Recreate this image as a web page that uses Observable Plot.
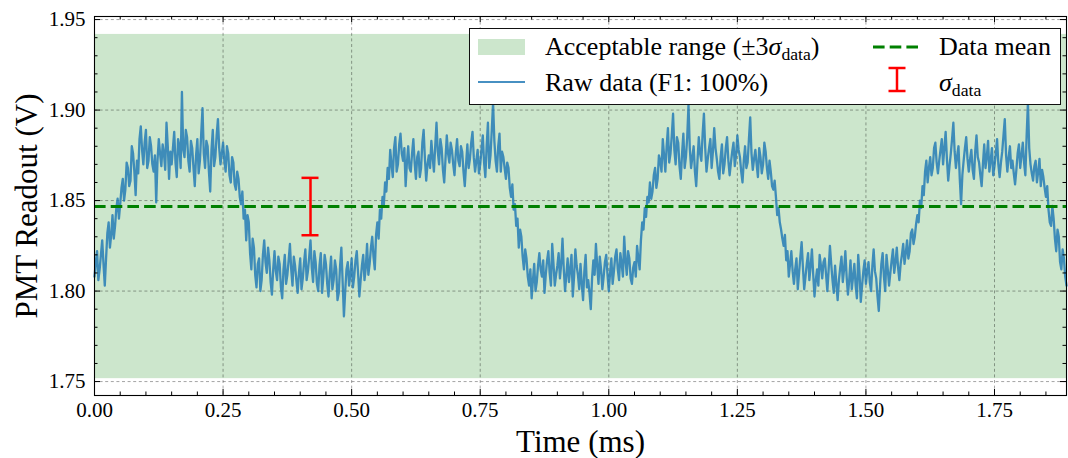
<!DOCTYPE html>
<html><head><meta charset="utf-8">
<script src="https://cdn.jsdelivr.net/npm/d3@7"></script>
<script src="https://cdn.jsdelivr.net/npm/@observablehq/plot@0.6"></script>
<style>
body{margin:0;background:#fff;}
#wrap{position:relative;width:1068px;height:458px;font-family:"Liberation Serif",serif;}
#legend{position:absolute;left:469px;top:28px;width:592px;height:77px;box-sizing:border-box;border:1.3px solid #111;background:#fff;}
.lt{position:absolute;font-size:26px;line-height:28px;white-space:nowrap;color:#000;}
.sub{font-size:0.68em;vertical-align:-0.3em;}
</style></head><body><div id="wrap"></div>
<script>
// ---- data ----
const dt = 0.0025; // ms between samples
const values = [
1.808,1.816,1.822,1.806,1.812,1.820,1.828,1.815,1.803,1.818,1.832,1.838,1.824,1.831,1.842,1.829,1.836,1.846,1.851,1.840,
1.848,1.857,1.862,1.850,1.856,1.871,1.868,1.858,1.861,1.880,1.876,1.866,1.853,1.872,1.865,1.884,1.891,1.878,1.870,1.882,
1.889,1.868,1.872,1.885,1.880,1.870,1.866,1.875,1.849,1.872,1.884,1.876,1.869,1.881,1.876,1.867,1.893,1.880,1.862,1.877,
1.870,1.879,1.888,1.871,1.863,1.884,1.880,1.868,1.910,1.878,1.874,1.889,1.885,1.872,1.866,1.883,1.879,1.868,1.858,1.875,
1.884,1.865,1.872,1.887,1.901,1.876,1.868,1.883,1.880,1.866,1.855,1.878,1.889,1.869,1.874,1.886,1.895,1.879,1.870,1.876,
1.882,1.872,1.866,1.880,1.876,1.864,1.860,1.874,1.871,1.859,1.856,1.866,1.862,1.852,1.848,1.855,1.840,1.845,1.828,1.842,
1.838,1.821,1.812,1.829,1.824,1.809,1.802,1.815,1.818,1.800,1.806,1.820,1.828,1.816,1.810,1.824,1.817,1.805,1.798,1.812,
1.822,1.811,1.806,1.819,1.815,1.802,1.796,1.812,1.820,1.804,1.809,1.817,1.826,1.812,1.803,1.819,1.814,1.806,1.799,1.810,
1.818,1.801,1.807,1.816,1.823,1.806,1.811,1.819,1.828,1.813,1.805,1.822,1.816,1.804,1.800,1.814,1.821,1.799,1.808,1.820,
1.815,1.804,1.797,1.810,1.819,1.801,1.806,1.817,1.812,1.795,1.799,1.814,1.824,1.805,1.786,1.800,1.812,1.816,1.803,1.809,
1.818,1.802,1.808,1.817,1.822,1.810,1.797,1.806,1.814,1.820,1.806,1.813,1.826,1.809,1.815,1.824,1.830,1.819,1.812,1.831,
1.838,1.829,1.845,1.840,1.852,1.847,1.860,1.855,1.868,1.862,1.878,1.870,1.863,1.879,1.885,1.866,1.870,1.881,1.887,1.876,
1.872,1.879,1.858,1.871,1.880,1.868,1.866,1.876,1.884,1.871,1.862,1.874,1.877,1.863,1.868,1.882,1.889,1.873,1.861,1.870,
1.875,1.868,1.883,1.874,1.866,1.880,1.893,1.877,1.870,1.884,1.879,1.867,1.860,1.873,1.886,1.876,1.871,1.882,1.878,1.870,
1.864,1.876,1.884,1.872,1.869,1.880,1.877,1.866,1.858,1.870,1.881,1.868,1.873,1.882,1.888,1.874,1.866,1.872,1.878,1.865,
1.870,1.878,1.886,1.871,1.863,1.880,1.893,1.868,1.875,1.889,1.904,1.883,1.872,1.866,1.880,1.887,1.866,1.877,1.874,1.868,
1.862,1.871,1.868,1.857,1.852,1.859,1.845,1.848,1.836,1.840,1.824,1.834,1.830,1.819,1.812,1.823,1.818,1.808,1.803,1.812,
1.796,1.806,1.815,1.800,1.805,1.814,1.821,1.812,1.808,1.817,1.799,1.809,1.817,1.822,1.810,1.803,1.826,1.815,1.803,1.809,
1.814,1.821,1.807,1.815,1.829,1.812,1.800,1.809,1.818,1.805,1.812,1.820,1.797,1.808,1.823,1.814,1.809,1.801,1.815,1.804,
1.795,1.811,1.820,1.802,1.806,1.799,1.790,1.807,1.817,1.809,1.826,1.814,1.804,1.819,1.812,1.801,1.808,1.816,1.820,1.809,
1.800,1.810,1.818,1.804,1.811,1.819,1.823,1.812,1.806,1.821,1.815,1.808,1.830,1.817,1.809,1.822,1.818,1.807,1.804,1.813,
1.816,1.808,1.825,1.818,1.812,1.828,1.838,1.834,1.846,1.841,1.852,1.849,1.860,1.851,1.855,1.864,1.868,1.857,1.862,1.875,
1.872,1.866,1.884,1.875,1.866,1.880,1.890,1.871,1.876,1.886,1.898,1.878,1.870,1.885,1.882,1.869,1.862,1.876,1.887,1.868,
1.874,1.885,1.903,1.879,1.868,1.874,1.880,1.866,1.858,1.872,1.885,1.876,1.872,1.887,1.898,1.879,1.866,1.873,1.879,1.884,
1.868,1.877,1.890,1.879,1.873,1.866,1.862,1.874,1.881,1.865,1.870,1.879,1.885,1.872,1.864,1.871,1.877,1.882,1.869,1.875,
1.886,1.878,1.874,1.866,1.860,1.872,1.880,1.868,1.871,1.884,1.896,1.876,1.867,1.873,1.878,1.870,1.863,1.879,1.874,1.865,
1.870,1.882,1.877,1.868,1.862,1.872,1.866,1.858,1.856,1.861,1.852,1.842,1.846,1.838,1.834,1.829,1.825,1.831,1.817,1.822,
1.808,1.815,1.822,1.811,1.804,1.812,1.818,1.801,1.810,1.819,1.827,1.813,1.801,1.808,1.815,1.821,1.806,1.814,1.823,1.809,
1.797,1.806,1.812,1.803,1.820,1.814,1.807,1.816,1.818,1.809,1.800,1.812,1.825,1.815,1.806,1.799,1.814,1.804,1.795,1.806,
1.813,1.819,1.805,1.812,1.822,1.808,1.798,1.806,1.817,1.801,1.808,1.815,1.803,1.796,1.820,1.810,1.794,1.803,1.811,1.817,
1.804,1.811,1.816,1.805,1.800,1.814,1.823,1.811,1.807,1.797,1.789,1.803,1.815,1.821,1.808,1.800,1.820,1.812,1.803,1.810,
1.817,1.823,1.810,1.816,1.824,1.813,1.806,1.815,1.820,1.826,1.815,1.821,1.828,1.818,1.822,1.832,1.834,1.826,1.830,1.837,
1.842,1.838,1.850,1.846,1.858,1.853,1.866,1.872,1.860,1.868,1.874,1.864,1.868,1.879,1.882,1.871,1.865,1.872,1.878,1.884,
1.870,1.879,1.888,1.873,1.861,1.869,1.876,1.884,1.893,1.877,1.868,1.875,1.880,1.862,1.848,1.864,1.872,1.879,1.885,1.873,
1.866,1.873,1.878,1.867,1.862,1.877,1.886,1.874,1.871,1.864,1.858,1.870,1.881,1.868,1.874,1.883,1.866,1.872,1.879,1.864,
1.869,1.876,1.884,1.870,1.863,1.871,1.877,1.886,1.895,1.875,1.866,1.874,1.880,1.868,1.872,1.865,1.859,1.867,1.876,1.881,
1.868,1.875,1.882,1.871,1.864,1.886,1.904,1.879,1.870,1.865,1.861,1.869,1.872,1.860,1.866,1.873,1.858,1.867,1.863,1.857,
1.852,1.858,1.845,1.838,1.836,1.847,1.840,1.829,1.822,1.834,1.830,1.816,1.812,1.823,1.818,1.808,1.803
];
const meanV = 1.8467;   // data mean (V)
const sigma = 0.0317;   // sigma_data (V)
const errX = 0.42;      // position of the sigma bar (ms)
const xDomain = [0, 1.89];
const yDomain = [1.7423, 1.9517];
const xMajor = [0, 0.25, 0.5, 0.75, 1.0, 1.25, 1.5, 1.75];
const xMinor = [0.05,0.10,0.15,0.20,0.30,0.35,0.40,0.45,0.55,0.60,0.65,0.70,0.80,0.85,0.90,0.95,1.05,1.10,1.15,1.20,1.30,1.35,1.40,1.45,1.55,1.60,1.65,1.70,1.80,1.85];
const yMajor = [1.75, 1.80, 1.85, 1.90, 1.95];
const yMinor = [1.76,1.77,1.78,1.79,1.81,1.82,1.83,1.84,1.86,1.87,1.88,1.89,1.91,1.92,1.93,1.94];

// ---- layout ----
const W = 1068, H = 458, mL = 94, mR = 2, mT = 16, mB = 63;
const pW = W - mL - mR, pH = H - mT - mB;
const data = values.map((v, i) => ({t: i * dt, v}));
const gridStyle = {stroke: "#000", strokeOpacity: 0.45, strokeWidth: 0.8, strokeDasharray: "3,2.6"};

const chart = Plot.plot({
  width: W, height: H,
  marginLeft: mL, marginRight: mR, marginTop: mT, marginBottom: mB,
  style: {fontFamily: "'Liberation Serif', serif", fontSize: "21px", background: "transparent", color: "#000"},
  x: {domain: xDomain},
  y: {domain: yDomain},
  marks: [
    Plot.rect([0], {x1: xDomain[0], x2: xDomain[1], y1: meanV - 3 * sigma, y2: meanV + 3 * sigma, fill: "#cce6cc"}),
    Plot.gridX(xMajor, gridStyle),
    Plot.gridY(yMajor, gridStyle),
    Plot.line(data, {x: "t", y: "v", stroke: "#1f77b4", strokeOpacity: 0.82, strokeWidth: 2.3, strokeLinejoin: "round"}),
    Plot.ruleY([meanV], {stroke: "#008000", strokeWidth: 3, strokeDasharray: "11.6,5.1"}),
    Plot.ruleX([errX], {y1: meanV - sigma / 2, y2: meanV + sigma / 2, stroke: "#ff0000", strokeWidth: 2.5}),
    Plot.ruleY([meanV - sigma / 2, meanV + sigma / 2], {x1: errX, x2: errX, insetLeft: -8.5, insetRight: -8.5, stroke: "#ff0000", strokeWidth: 2.5}),
    // inward ticks on all four sides
    Plot.ruleX(xMajor, {insetTop: pH - 6, stroke: "#000"}),
    Plot.ruleX(xMajor, {insetBottom: pH - 6, stroke: "#000"}),
    Plot.ruleX(xMinor, {insetTop: pH - 3.5, stroke: "#000"}),
    Plot.ruleX(xMinor, {insetBottom: pH - 3.5, stroke: "#000"}),
    Plot.ruleY(yMajor, {insetRight: pW - 6, stroke: "#000"}),
    Plot.ruleY(yMajor, {insetLeft: pW - 6, stroke: "#000"}),
    Plot.ruleY(yMinor, {insetRight: pW - 3.5, stroke: "#000"}),
    Plot.ruleY(yMinor, {insetLeft: pW - 3.5, stroke: "#000"}),
    Plot.frame({stroke: "#000", strokeWidth: 1.1}),
    Plot.axisX(xMajor, {tickSize: 0, tickPadding: 7, tickFormat: d => d.toFixed(2), label: null}),
    Plot.axisY(yMajor, {tickSize: 0, tickPadding: 9, tickFormat: d => d.toFixed(2), label: null}),
    Plot.text(["Time (ms)"], {frameAnchor: "bottom", dy: 47, lineAnchor: "middle", textAnchor: "middle", fontSize: 31, text: d => d}),
    Plot.text(["PMT Readout (V)"], {frameAnchor: "left", dx: -67, rotate: -90, lineAnchor: "middle", textAnchor: "middle", fontSize: 31, text: d => d})
  ]
});

const wrap = document.getElementById("wrap");
wrap.append(chart);

const lg = document.createElement("div");
lg.id = "legend";
lg.innerHTML = `
<svg width="592" height="77" style="position:absolute;left:-1px;top:-1px;overflow:visible">
  <rect x="9" y="11" width="47" height="16" fill="#cce6cc"/>
  <line x1="9" x2="56" y1="54" y2="54" stroke="#1f77b4" stroke-opacity="0.82" stroke-width="2.2"/>
  <line x1="404" x2="450" y1="19" y2="19" stroke="#008000" stroke-width="3" stroke-dasharray="11.6,5.1"/>
  <line x1="428" x2="428" y1="40" y2="63" stroke="#ff0000" stroke-width="2.5"/>
  <line x1="419.5" x2="436.5" y1="40" y2="40" stroke="#ff0000" stroke-width="2.5"/>
  <line x1="419.5" x2="436.5" y1="63" y2="63" stroke="#ff0000" stroke-width="2.5"/>
</svg>
<div class="lt" style="left:75px;top:4px">Acceptable range (±3<i>σ</i><span class="sub">data</span>)</div>
<div class="lt" style="left:75px;top:40px">Raw data (F1: 100%)</div>
<div class="lt" style="left:469px;top:4px">Data mean</div>
<div class="lt" style="left:469px;top:40px"><i>σ</i><span class="sub">data</span></div>
`;
wrap.append(lg);
</script></body></html>
